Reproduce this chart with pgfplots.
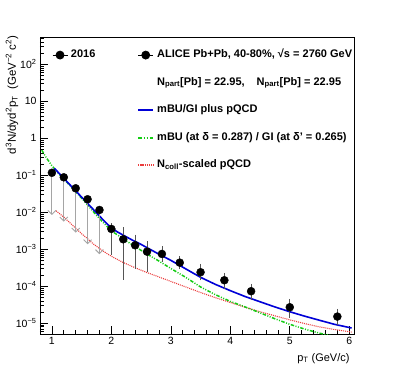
\documentclass[border=0pt]{standalone}
\usepackage{fontspec}
\setmainfont{Liberation Sans}
\usepackage{pgfplots}
\usepackage{pgfplotstable}
\pgfplotsset{compat=1.18}
\usetikzlibrary{arrows.meta}

\definecolor{rootblue}{RGB}{0,0,215}
\definecolor{rootgreen}{RGB}{20,205,20}
\definecolor{rootred}{RGB}{235,60,60}
\definecolor{ebar}{RGB}{85,85,85}
\definecolor{ulim}{RGB}{165,165,165}

% measured points with error bars
\pgfplotstableread{
x    y        ep       em
2.0  0.00354  0.00092  0.00276
2.2  0.00186  0.00162  0.001689
2.4  0.00128  0.00091  0.000941
2.6  0.000861 0.000589 0.000585
2.85 0.000746 0.000314 0.000232
3.15 0.000434 0.000137 0.000108
3.5  0.000239 0.000115 0.000075
3.9  0.000145 0.000057 0.000051
4.35 7.33e-5  2.87e-5  2.59e-5
5.0  2.70e-5  1.31e-5  1.13e-5
5.8  1.51e-5  0.64e-5  0.51e-5
}\datapts

% upper limits (points drawn, arrow down to lower end)
\pgfplotstableread{
x   y
1.0 0.117
1.2 0.0883
1.4 0.0445
1.6 0.0225
1.8 0.01154
}\ulpts

% mBU/GI plus pQCD
\pgfplotstableread{
x    y
1.04 0.155
1.1  0.123
1.2  0.0832
1.3  0.0562
1.4  0.0380
1.5  0.0257
1.6  0.0174
1.7  0.01175
1.8  0.00794
1.9  0.00537
2.0  0.00380
2.1  0.00295
2.2  0.00240
2.35 0.00178
2.5  0.00135
2.75 0.000813
3.0  0.000501
3.25 0.000295
3.5  0.000174
3.75 0.000112
4.0  7.59e-5
4.25 5.25e-5
4.5  3.80e-5
4.75 2.75e-5
5.0  2.04e-5
5.25 1.55e-5
5.5  1.20e-5
5.75 9.33e-6
6.04 7.41e-6
}\blue

% mBU / GI
\pgfplotstableread{
x    y
0.83 0.479
0.9  0.309
1.0  0.182
1.1  0.1175
1.2  0.0794
1.3  0.0537
1.4  0.0355
1.5  0.0240
1.6  0.01585
1.7  0.01023
1.8  0.00676
1.9  0.00457
2.0  0.00316
2.2  0.00191
2.4  0.001175
2.6  0.000741
2.8  0.000479
3.0  0.000302
3.25 0.000174
3.5  9.55e-5
3.75 5.89e-5
4.0  3.89e-5
4.25 2.75e-5
4.5  1.905e-5
4.75 1.318e-5
5.0  9.33e-6
5.25 6.92e-6
5.5  5.37e-6
5.75 4.37e-6
6.04 3.63e-6
}\green

% Ncoll-scaled pQCD
\pgfplotstableread{
x    y
1.07 0.01096
1.1  0.0100
1.2  0.00741
1.3  0.00525
1.4  0.00372
1.5  0.00263
1.6  0.00191
1.7  0.00138
1.8  0.00105
1.9  0.000813
2.0  0.000646
2.2  0.000437
2.4  0.000316
2.6  0.000234
2.8  0.000178
3.0  0.000135
3.25 9.55e-5
3.5  6.76e-5
3.75 4.90e-5
4.0  3.63e-5
4.25 2.69e-5
4.5  2.04e-5
4.75 1.585e-5
5.0  1.23e-5
5.25 9.77e-6
5.5  7.94e-6
5.75 6.76e-6
6.04 5.75e-6
}\red

\pgfplotsset{
  rootlegend/.style={
    legend image code/.code={\draw[##1] (0pt,0pt) -- (15pt,0pt);},
    legend cell align=left,
    legend style={draw=none, fill=none, inner sep=0pt, row sep=15.5pt,
      font=\bfseries\fontsize{11}{13}\selectfont,
      nodes={inner sep=1pt, text height=7.5pt, text depth=2.5pt},
      /tikz/every odd column/.append style={column sep=2pt}},
  },
  markleg/.style={
    legend image code/.code={
      \draw[mark repeat=2,mark phase=2,##1] plot coordinates {(0pt,0pt) (7.5pt,0pt) (15pt,0pt)};}},
  greenline/.style={draw=rootgreen, line width=1.5pt,
    dash pattern=on 3.5pt off 1.5pt on 1pt off 1.5pt on 1pt off 1.5pt},
  redline/.style={draw=rootred, line width=1.1pt, dash pattern=on 1pt off 1pt},
  greenleg/.style={legend image code/.code={
      \draw[draw=rootgreen, line width=2pt, dash pattern=on 4pt off 1.5pt on 1.5pt off 1.5pt on 1.5pt off 1.5pt] (0pt,0pt) -- (15pt,0pt);}},
  redleg/.style={legend image code/.code={
      \draw[draw=rootred, line width=1.4pt, dash pattern=on 1.2pt off 0.9pt] (0pt,0pt) -- (15pt,0pt);}},
}

\begin{document}
\begin{tikzpicture}
\begin{axis}[
  scale only axis, width=314pt, height=297pt,
  xmin=0.8, xmax=6.08,
  ymode=log, ymin=5.1e-6, ymax=550,
  axis line style={line width=0.7pt},
  tick pos=left, tick align=inside,
  major tick length=8.5pt, minor tick length=4.5pt,
  tick style={line width=0.6pt, black},
  xtick={1,2,3,4,5,6}, xticklabels={1,2,3,4,5,6},
  minor xtick={1.2,1.4,1.6,1.8,2.2,2.4,2.6,2.8,3.2,3.4,3.6,3.8,4.2,4.4,4.6,4.8,5.2,5.4,5.6,5.8},
  ytick={1e-5,1e-4,1e-3,1e-2,1e-1,1,10,100},
  yticklabels={10\textsuperscript{−5},10\textsuperscript{−4},10\textsuperscript{−3},10\textsuperscript{−2},10\textsuperscript{−1},1,10,10\textsuperscript{2}},
  minor ytick={6e-6,7e-6,8e-6,9e-6,
    2e-5,3e-5,4e-5,5e-5,6e-5,7e-5,8e-5,9e-5,
    2e-4,3e-4,4e-4,5e-4,6e-4,7e-4,8e-4,9e-4,
    2e-3,3e-3,4e-3,5e-3,6e-3,7e-3,8e-3,9e-3,
    2e-2,3e-2,4e-2,5e-2,6e-2,7e-2,8e-2,9e-2,
    0.2,0.3,0.4,0.5,0.6,0.7,0.8,0.9,
    2,3,4,5,6,7,8,9,
    20,30,40,50,60,70,80,90,
    200,300,400,500},
  ticklabel style={font=\fontsize{10.5}{12}\selectfont},
  xlabel={p\textsubscript{T} (GeV/c)},
  xlabel style={at={(axis description cs:0.997,-0.091)}, anchor=base east,
    font=\fontsize{11}{13}\selectfont},
  ylabel={d\textsuperscript{3}N/dyd\textsuperscript{2}p\textsubscript{T}\ \ (GeV\textsuperscript{−2} c\textsuperscript{2})},
  ylabel style={at={(axis description cs:-0.089,1.017)}, anchor=east,
    font=\fontsize{11.5}{13}\selectfont},
  rootlegend,
  legend style={at={(rel axis cs:0.309,0.96)}, anchor=north west},
]
\addlegendimage{markleg, black, line width=0.8pt, mark=*, mark size=4pt}
\addlegendimage{empty legend}
\addlegendimage{draw=rootblue, line width=1.6pt}
\addlegendimage{greenleg}
\addlegendimage{redleg}

% curves
\addplot[redline, forget plot] table[x=x,y=y] {\red};
\addplot[greenline, forget plot] table[x=x,y=y] {\green};
\addplot[draw=rootblue, line width=1.6pt, forget plot] table[x=x,y=y] {\blue};

% upper-limit arrows
\addplot[ulim, line width=0.9pt, -{Straight Barb[length=4pt,width=8pt]}, forget plot] coordinates {(1.0,0.117) (1.0,0.00845)};
\addplot[ulim, line width=0.9pt, -{Straight Barb[length=4pt,width=8pt]}, forget plot] coordinates {(1.2,0.0883) (1.2,0.00557)};
\addplot[ulim, line width=0.9pt, -{Straight Barb[length=4pt,width=8pt]}, forget plot] coordinates {(1.4,0.0445) (1.4,0.00281)};
\addplot[ulim, line width=0.9pt, -{Straight Barb[length=4pt,width=8pt]}, forget plot] coordinates {(1.6,0.0225) (1.6,0.00136)};
\addplot[ulim, line width=0.9pt, -{Straight Barb[length=4pt,width=8pt]}, forget plot] coordinates {(1.8,0.01154) (1.8,0.000733)};

% data
\addplot[only marks, mark=*, mark size=4pt, black, forget plot,
  error bars/.cd, y dir=both, y explicit,
  error bar style={ebar, line width=0.8pt},
  error mark options={ebar, line width=0.8pt, mark size=2pt}]
  table[x=x, y=y, y error plus=ep, y error minus=em] {\datapts};
\addplot[only marks, mark=*, mark size=4pt, black, forget plot] table[x=x,y=y] {\ulpts};

\legend{{ALICE Pb+Pb, 40-80\%, √s = 2760 GeV},
  {N\textsubscript{part}[Pb] = 22.95,\hspace{12pt}N\textsubscript{part}[Pb] = 22.95},
  mBU/GI plus pQCD,
  mBU (at δ = 0.287) / GI (at δ' = 0.265),
  N\textsubscript{coll}-scaled pQCD}
\end{axis}

\begin{axis}[
  scale only axis, width=314pt, height=297pt, hide axis,
  xmin=0, xmax=1, ymin=0, ymax=1,
  rootlegend,
  legend style={at={(rel axis cs:0.038,0.96)}, anchor=north west},
]
\addlegendimage{markleg, black, line width=0.8pt, mark=*, mark size=4pt}
\addlegendentry{2016}
\end{axis}

\pgfresetboundingbox
\path (current axis.south west) ++(-40pt,-39pt) rectangle ++(394pt,373pt);
\end{tikzpicture}
\end{document}
